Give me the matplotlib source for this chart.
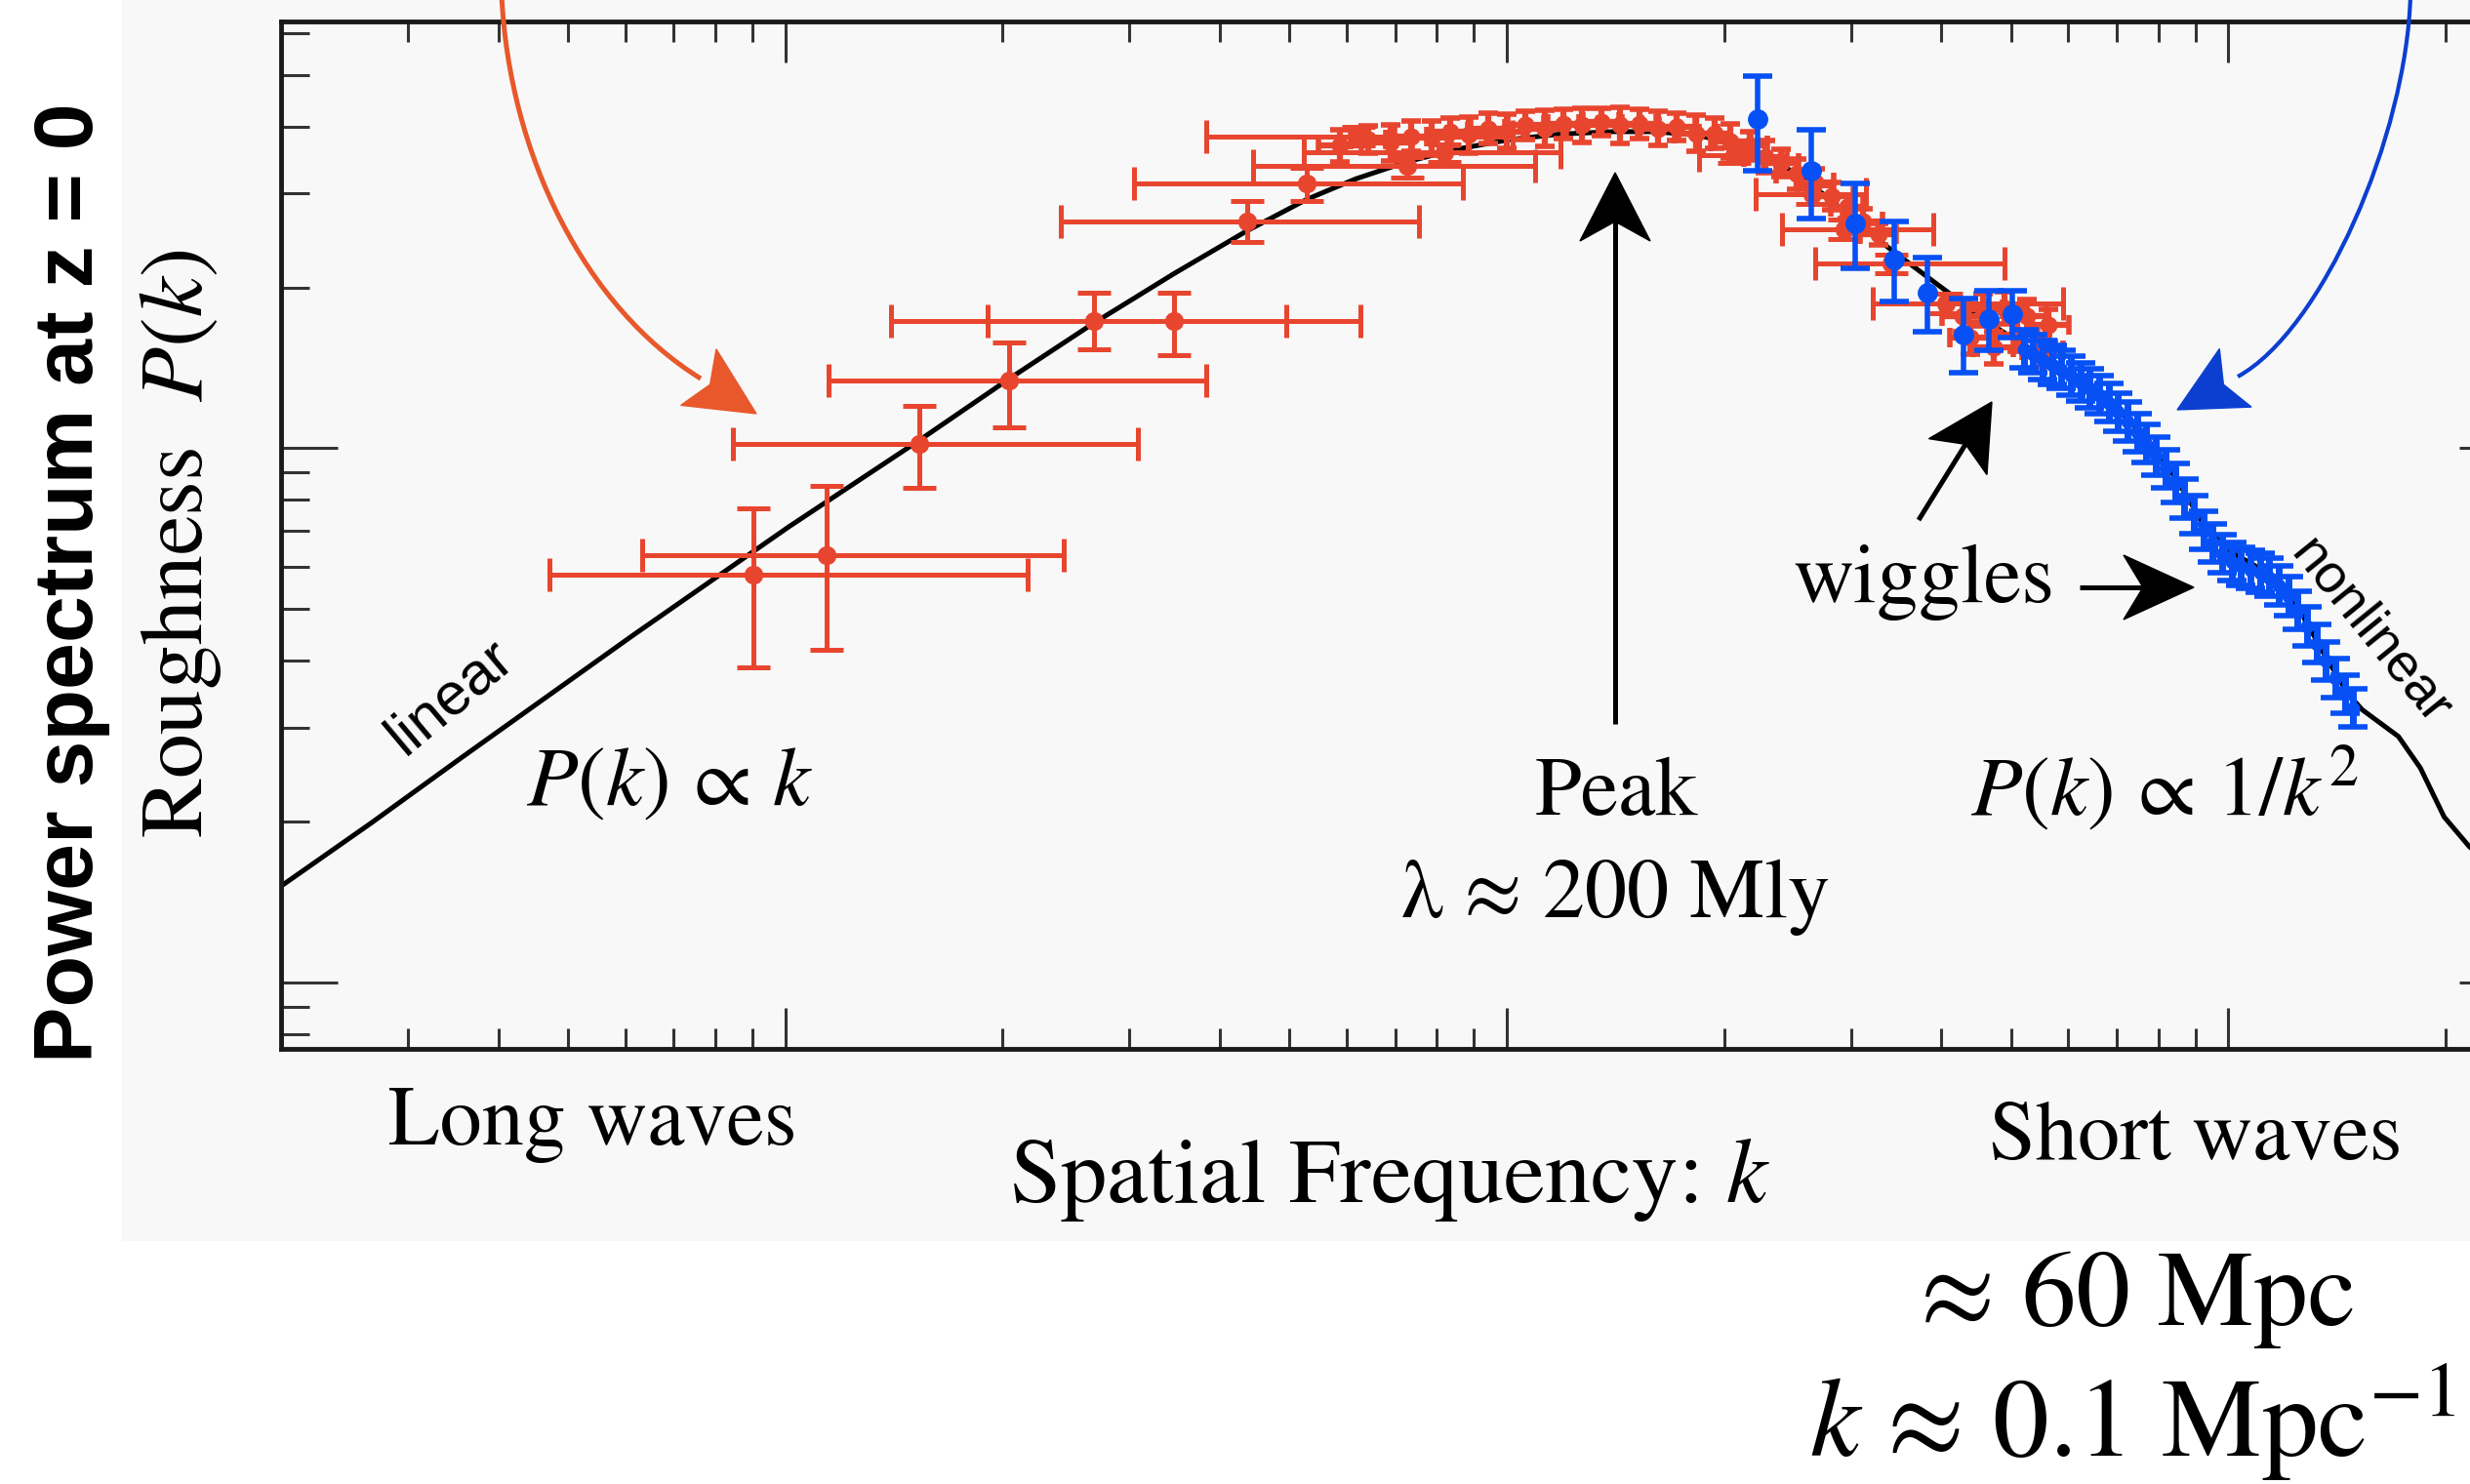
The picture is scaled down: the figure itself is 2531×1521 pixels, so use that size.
import numpy as np
import matplotlib
matplotlib.use("Agg")
import matplotlib.pyplot as plt
from matplotlib.transforms import Affine2D
from matplotlib.patches import Rectangle, Polygon, PathPatch
from matplotlib.path import Path
from matplotlib.lines import Line2D

plt.rcParams["mathtext.fontset"] = "stix"

# ---------------- data ----------------
# theory curve P(k)
curve_k = [2.0e-4, 2.666e-4, 3.568e-4, 6.14e-4, 1.0101e-3, 1.533e-3, 2.042e-3, 2.666e-3,
           3.461e-3, 4.362e-3, 5.281e-3, 6.172e-3, 7.286e-3, 8.556e-3, 1.0101e-2, 1.1866e-2,
           1.4004e-2, 1.604e-2, 1.819e-2, 2.063e-2, 2.281e-2, 2.522e-2, 2.788e-2, 3.083e-2,
           3.41e-2, 3.77e-2, 4.17e-2, 4.611e-2, 5.097e-2, 5.638e-2, 6.234e-2, 6.894e-2,
           7.623e-2, 8.431e-2, 9.32e-2, 0.10101, 0.10837, 0.11686, 0.126, 0.13589,
           0.14652, 0.1533, 0.1721, 0.1846, 0.1991, 0.2158, 0.2327, 0.2496]
curve_P = [1513, 1986, 2641, 4457, 7120, 10345, 13487, 17100,
           21255, 25531, 29251, 31947, 34430, 36343, 37860, 38768,
           39170, 39170, 38637, 37350, 35376, 32613, 29447, 26238,
           23535, 21255, 19196, 17338, 15871, 14630, 13487, 12176,
           10558, 8849, 7072, 6387, 6048, 5651, 4934, 4108,
           3466, 3238, 2885, 2518, 2040, 1794, 1642, 1555]

# red data points with wide bins
red_k = [9.04e-4, 1.14e-3, 1.533e-3, 2.042e-3, 2.679e-3, 3.461e-3, 4.362e-3, 5.281e-3,
         7.286e-3, 8.18e-3, 6.234e-3, 2.063e-2, 2.652e-2, 2.933e-2, 3.41e-2, 4.066e-2]
red_k_lo = [4.71e-4, 6.33e-4, 8.47e-4, 1.146e-3, 1.401e-3, 1.904e-3, 2.41e-3, 3.038e-3,
            4.451e-3, 5.228e-3, 3.828e-3, 1.846e-2, 2.213e-2, 2.41e-2, 2.679e-2, 3.21e-2]
red_k_hi = [2.17e-3, 2.435e-3, 3.084e-3, 3.828e-3, 4.947e-3, 6.266e-3, 7.546e-3, 8.687e-3,
            1.0947e-2, 1.1866e-2, 1.0202e-2, 2.281e-2, 3.146e-2, 3.905e-2, 4.898e-2, 5.898e-2]
red_P = [5808, 6301, 10206, 13394, 17338, 17338, 26597, 31300,
         33729, 35859, 38374, 35376, 29854, 25704, 22143, 18676]
red_P_lo = [3890, 4193, 8438, 10923, 15337, 14928, 24349, 29048,
            32170, 34430, 36843, 34197, 28660, 24682, 21255, 17931]
red_P_hi = [7726, 8495, 12016, 15764, 19590, 19590, 29048, 33506,
            35133, 37093, 39985, 36590, 31096, 26773, 23060, 19454]

# dense red points around the peak (errors in dex)
redc_k = [5.869e-3, 6.425e-3, 6.894e-3, 7.358e-3, 7.856e-3, 8.344e-3, 8.861e-3, 9.414e-3,
          1.0e-2, 1.0622e-2, 1.128e-2, 1.1984e-2, 1.2728e-2, 1.352e-2, 1.436e-2, 1.5254e-2,
          1.6203e-2, 1.721e-2, 1.828e-2, 1.942e-2, 2.042e-2, 2.169e-2, 2.281e-2, 2.398e-2,
          2.522e-2, 2.679e-2, 2.817e-2, 2.962e-2, 3.114e-2, 3.275e-2,
          4.276e-2, 4.564e-2, 4.898e-2, 5.254e-2, 5.638e-2, 4.385e-2, 4.727e-2, 5.097e-2, 5.525e-2]
redc_P = [36843, 37860, 37350, 38374, 38113, 39170, 38637, 39712,
          39170, 40252, 39712, 40530, 40252, 40803, 40252, 40530,
          39712, 39985, 38905, 38905, 37608, 36843, 35133, 34197,
          32613, 31529, 29648, 28282, 26597, 25190,
          17694, 18182, 18305, 17694, 16987, 16089, 15446, 16310, 15235]
redc_xerr_dex = [0.030, 0.025, 0.030, 0.022, 0.028, 0.025, 0.030, 0.024,
                 0.028, 0.025, 0.030, 0.022, 0.027, 0.025, 0.030, 0.024,
                 0.028, 0.025, 0.030, 0.022, 0.028, 0.025, 0.030, 0.024,
                 0.028, 0.025, 0.030, 0.022, 0.028, 0.025,
                 0.028, 0.028, 0.028, 0.028, 0.028, 0.028, 0.028, 0.028, 0.028]
redc_yerr_dex = [0.030, 0.026, 0.034, 0.028, 0.032, 0.026, 0.034, 0.028,
                 0.032, 0.026, 0.034, 0.028, 0.032, 0.026, 0.034, 0.028,
                 0.032, 0.026, 0.034, 0.028, 0.032, 0.026, 0.030, 0.026,
                 0.028, 0.024, 0.026, 0.022, 0.024, 0.020,
                 0.030, 0.030, 0.030, 0.030, 0.030, 0.030, 0.030, 0.030, 0.030]

# blue points with large error bars
blue_k = [2.225e-2, 2.639e-2, 3.038e-2, 3.444e-2, 3.828e-2, 4.297e-2, 4.657e-2, 5.022e-2]
blue_P = [41362, 33050, 26417, 22594, 19590, 16310, 17458, 17814]
blue_P_lo = [33050, 26966, 21694, 18808, 16533, 13855, 15235, 16089]
blue_P_hi = [49685, 39440, 31300, 26597, 22748, 19067, 19724, 19724]

# dense blue band
blueb_k = [5.202e-2, 5.361e-2, 5.525e-2, 5.694e-2, 5.869e-2, 6.048e-2, 6.234e-2, 6.425e-2,
           6.622e-2, 6.825e-2, 7.034e-2, 7.25e-2, 7.472e-2, 7.701e-2, 7.937e-2, 8.18e-2,
           8.431e-2, 8.689e-2, 8.954e-2, 9.228e-2, 9.51e-2, 9.802e-2, 0.10101, 0.1041,
           0.10729, 0.11057, 0.11396, 0.11745, 0.12106, 0.12476, 0.12858, 0.13253,
           0.13658, 0.14077, 0.14508, 0.14876]
blueb_P = [15346, 15031, 14630, 14336, 14045, 13668, 13302, 12944,
           12597, 12176, 11692, 11226, 10703, 10206, 9666, 9154,
           8612, 8047, 7517, 7024, 6653, 6343, 6132, 6009,
           5928, 5848, 5730, 5539, 5281, 4968, 4641, 4306,
           3997, 3709, 3465, 3261]
blueb_yerr_dex = [0.036] * 36

XLIM = (2.0e-4, 0.25)
YLIM = (750, 6.3e4)

RED = "#e8452f"
BLUE = "#0650f5"
ORANGE = "#e8582b"
DBLUE = "#0c3fd0"
PANEL = "#f8f8f8"
SERIF = "STIXGeneral"
SANS = "Liberation Sans"

# ---------------- figure ----------------
W, H = 2531, 1521
fig = plt.figure(figsize=(W / 100, H / 100), dpi=100)
fig.patch.set_facecolor("white")
PX = Affine2D().scale(1.0 / W, -1.0 / H).translate(0, 1) + fig.transFigure

fig.add_artist(Rectangle((125, 0), W - 125, 1272, transform=PX,
                         facecolor=PANEL, edgecolor="none", zorder=-10))

ax_l, ax_t, ax_b = 288, 22, 1075
ax_r = ax_l + np.log10(XLIM[1] / XLIM[0]) * 739.3
ax = fig.add_axes([ax_l / W, 1 - ax_b / H, (ax_r - ax_l) / W, (ax_b - ax_t) / H])
ax.set_facecolor(PANEL)
ax.set_xscale("log")
ax.set_yscale("log")
ax.set_xlim(*XLIM)
ax.set_ylim(*YLIM)
for sp in ax.spines.values():
    sp.set_linewidth(3.5)
    sp.set_color("#1a1a1a")
ax.tick_params(which="both", direction="in", top=True, right=True,
               labelbottom=False, labelleft=False, color="#333333", width=2.2)
ax.tick_params(axis="x", which="major", length=30)
ax.tick_params(axis="x", which="minor", length=15)
ax.tick_params(axis="y", which="major", length=42)
ax.tick_params(axis="y", which="minor", length=21)

ax.plot(curve_k, curve_P, color="black", lw=3.6, zorder=2,
        solid_joinstyle="round", solid_capstyle="round")


def asym(v, lo, hi):
    v, lo, hi = np.asarray(v, float), np.asarray(lo, float), np.asarray(hi, float)
    return np.vstack([v - lo, hi - v])


def dex(v, d):
    v, d = np.asarray(v, float), np.asarray(d, float)
    return np.vstack([v * (1 - 10 ** (-d)), v * (10 ** d - 1)])


ax.errorbar(red_k, red_P, xerr=asym(red_k, red_k_lo, red_k_hi),
            yerr=asym(red_P, red_P_lo, red_P_hi), fmt="o", ms=13, color=RED,
            ecolor=RED, elinewidth=3.6, capsize=12, capthick=3.6, zorder=3)
ax.errorbar(redc_k, redc_P, xerr=dex(redc_k, redc_xerr_dex),
            yerr=dex(redc_P, redc_yerr_dex), fmt="o", ms=12, color=RED,
            ecolor=RED, elinewidth=4.5, capsize=7, capthick=4, zorder=3)
ax.errorbar(blueb_k, blueb_P, yerr=dex(blueb_P, blueb_yerr_dex), fmt="o", ms=9,
            color=BLUE, ecolor=BLUE, elinewidth=5, capsize=11, capthick=4, zorder=4)
ax.errorbar(blue_k, blue_P, yerr=asym(blue_P, blue_P_lo, blue_P_hi), fmt="o", ms=14,
            color=BLUE, ecolor=BLUE, elinewidth=4, capsize=11, capthick=4, zorder=4)


# ---------------- annotations ----------------
def head(tip, frm, L, w, notch, color):
    tip = np.array(tip, float)
    d = tip - np.array(frm, float)
    d /= np.hypot(*d)
    p = np.array([-d[1], d[0]])
    pts = [tip, tip - L * d + w * p, tip - (L - notch) * d, tip - L * d - w * p]
    fig.add_artist(Polygon(pts, closed=True, transform=PX, facecolor=color,
                           edgecolor=color, lw=1, zorder=6))
    return tip - (L - notch) * d


def straight_arrow(tail, tip, L, w, notch, color="black", lw=3.6):
    base = head(tip, tail, L, w, notch, color)
    fig.add_artist(Line2D([tail[0], base[0]], [tail[1], base[1]], transform=PX,
                          color=color, lw=lw, solid_capstyle="butt", zorder=6))


def curved_arrow(p0, p1, p2, p3, tip, L, w, notch, color, lw):
    path = Path([p0, p1, p2, p3], [Path.MOVETO, Path.CURVE4, Path.CURVE4, Path.CURVE4])
    fig.add_artist(PathPatch(path, transform=PX, facecolor="none", edgecolor=color,
                             lw=lw, zorder=6))
    head(tip, p3, L, w, notch, color)


curved_arrow((514, -5), (522, 160), (600, 315), (718, 388), (775, 424), 70, 34, 14, ORANGE, 3.6)
curved_arrow((2470, -5), (2466, 140), (2379, 339), (2293, 386), (2231, 420), 68, 34, 14, DBLUE, 3.0)
straight_arrow((1655, 742), (1655, 177), 70, 36, 20)
straight_arrow((1966, 533), (2041, 412), 66, 35, 15)
straight_arrow((2131, 602), (2248, 602), 72, 33, 20)


def T(x, y, s, **kw):
    opts = dict(ha="center", va="baseline", family=SERIF, size=62, color="black",
                transform=PX, zorder=7)
    opts.update(kw)
    fig.text(x, y, s, **opts)


T(95, 597, "Power spectrum at z = 0", rotation=90, rotation_mode="anchor",
  family=SANS, weight="bold", size=62)
T(207, 557, "Roughness  $P(k)$", rotation=90, rotation_mode="anchor", size=66)
T(607, 1173, "Long waves")
T(1424, 1232, "Spatial Frequency: $k$", size=68)
T(2250, 1188, "Short waves")
T(1656, 835, "Peak")
T(1656, 940, "λ ≈ 200 Mly")
T(2218, 835, r"$P(k)\,\propto\,1/k^2$")
T(686, 825, r"$P(k)\,\propto\,k$")
T(1971, 617, "wiggles")
T(2191, 1358, "≈ 60 Mpc", size=80)
T(1854, 1493, "$k$ ≈ 0.1 Mpc$^{-1}$", ha="left", size=83)
T(462, 715, "linear", rotation=40, rotation_mode="anchor", va="center",
  family=SANS, size=44)
T(2428, 648, "nonlinear", rotation=-51, rotation_mode="anchor", va="center",
  family=SANS, size=40)

fig.savefig("out.png", dpi=100)
